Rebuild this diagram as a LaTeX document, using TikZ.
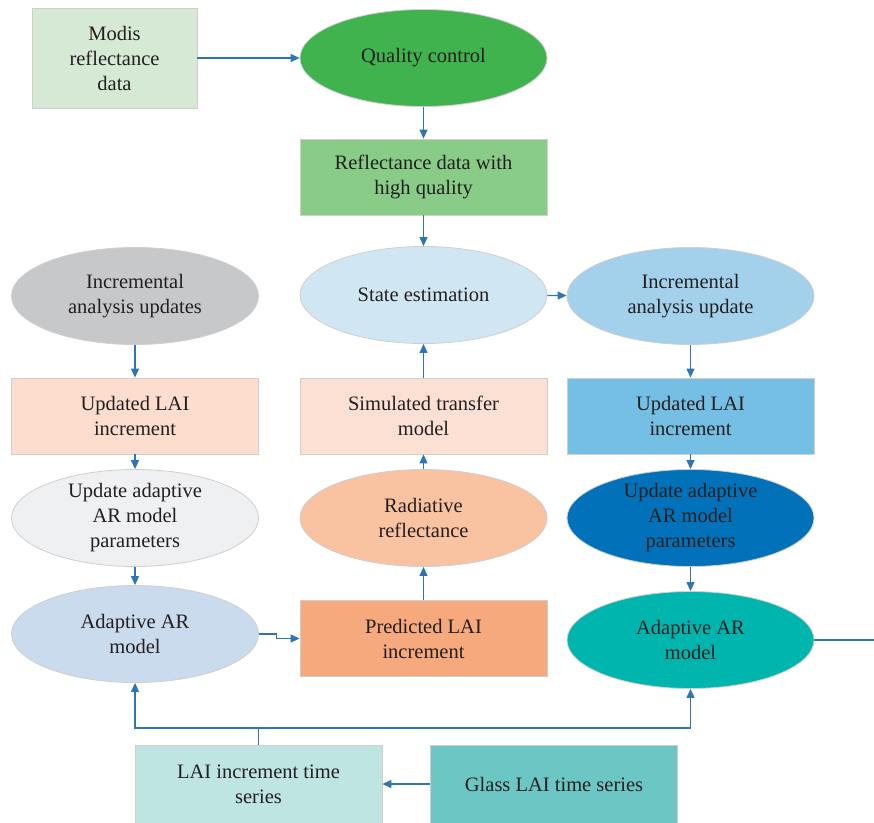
\documentclass[tikz,border=0pt]{standalone}
\usepackage{fontspec}
\setmainfont{Liberation Serif}
\usetikzlibrary{arrows.meta,shapes.geometric}

\definecolor{txt}{HTML}{231F20}
\definecolor{edge}{HTML}{CFCFCF}
\definecolor{link}{HTML}{2E75B6}
\definecolor{cModis}{HTML}{D5E9D5}
\definecolor{cQual}{HTML}{40B34F}
\definecolor{cRefl}{HTML}{88CC88}
\definecolor{cState}{HTML}{D1E6F3}
\definecolor{cIncL}{HTML}{C7C8CA}
\definecolor{cIncR}{HTML}{A3D1EB}
\definecolor{cUpdL}{HTML}{FCDDCE}
\definecolor{cSim}{HTML}{FCE0D3}
\definecolor{cUpdR}{HTML}{74BFE3}
\definecolor{cParL}{HTML}{EFF0F2}
\definecolor{cRad}{HTML}{F9C2A0}
\definecolor{cParR}{HTML}{0172B9}
\definecolor{cArL}{HTML}{C9DBEC}
\definecolor{cPred}{HTML}{F6A97C}
\definecolor{cArR}{HTML}{00B5AD}
\definecolor{cSeries}{HTML}{BFE5E3}
\definecolor{cGlass}{HTML}{6CC7C4}

\tikzset{
  every node/.style={text=txt, font=\fontsize{20.5}{25}\selectfont, align=center, inner sep=0pt},
  box/.style={draw=edge, line width=0.8pt, rectangle, minimum width=247pt, minimum height=76pt},
  oval/.style={draw=edge, line width=0.8pt, ellipse, minimum width=247pt, minimum height=97pt},
  arr/.style={draw=link, line width=1.1pt, -{Triangle[length=9pt,width=8pt]}},
  wire/.style={draw=link, line width=1.1pt}
}

\begin{document}
\begin{tikzpicture}[x=1pt,y=-1pt]
\useasboundingbox (0,0) rectangle (874,822);

% top chain
\node[box, fill=cModis, minimum width=165pt, minimum height=100pt] (modis) at (114.5,58) {Modis\\reflectance\\data};
\node[oval, fill=cQual] (qual) at (423.5,58) {Quality control};
\node[box, fill=cRefl] (refl) at (423.5,177) {Reflectance data with\\high quality};
\node[oval, fill=cState] (state) at (423.5,295) {State estimation};

% left column
\node[oval, fill=cIncL] (incl) at (135,296) {Incremental\\analysis updates};
\node[box, fill=cUpdL] (updl) at (135,416) {Updated LAI\\increment};
\node[oval, fill=cParL] (parl) at (135,518) {Update adaptive\\AR model\\parameters};
\node[oval, fill=cArL] (arl) at (135,634) {Adaptive AR\\model};

% middle column
\node[box, fill=cSim] (sim) at (423.5,416) {Simulated transfer\\model};
\node[oval, fill=cRad] (rad) at (423.5,518) {Radiative\\reflectance};
\node[box, fill=cPred] (pred) at (423.5,638.5) {Predicted LAI\\increment};

% right column
\node[oval, fill=cIncR] (incr) at (690.5,296) {Incremental\\analysis update};
\node[box, fill=cUpdR] (updr) at (690.5,416) {Updated LAI\\increment};
\node[oval, fill=cParR] (parr) at (690.5,518) {Update adaptive\\AR model\\parameters};
\node[oval, fill=cArR] (arr) at (690.5,640) {Adaptive AR\\model};

% time series inputs
\node[box, fill=cSeries, minimum height=78pt] (series) at (258.5,784) {LAI increment time\\series};
\node[box, fill=cGlass, minimum height=78pt] (glass) at (554,784) {Glass LAI time series};

% connectors
\draw[arr] (modis) -- (qual);
\draw[arr] (qual) -- (refl);
\draw[arr] (refl) -- (state);
\draw[arr] (state) -- (incr);
\draw[arr] (sim) -- (state);
\draw[arr] (rad) -- (sim);
\draw[arr] (pred) -- (rad);

\draw[arr] (incl) -- (updl);
\draw[arr] (updl) -- (parl);
\draw[arr] (parl) -- (arl);
\draw[arr] (arl.east) -- ++(18,0) |- (pred.west);

\draw[arr] (incr) -- (updr);
\draw[arr] (updr) -- (parr);
\draw[arr] (parr) -- (arr);

\coordinate (bus) at (258.5,728);
\coordinate (outlet) at (874,640);
\draw[wire] (series.north) -- (bus);
\draw[arr] (bus) -| (arl.south);
\draw[arr] (bus) -| (arr.south);
\draw[arr] (glass) -- (series);
\draw[wire] (arr.east) -- (outlet);
\end{tikzpicture}
\end{document}
